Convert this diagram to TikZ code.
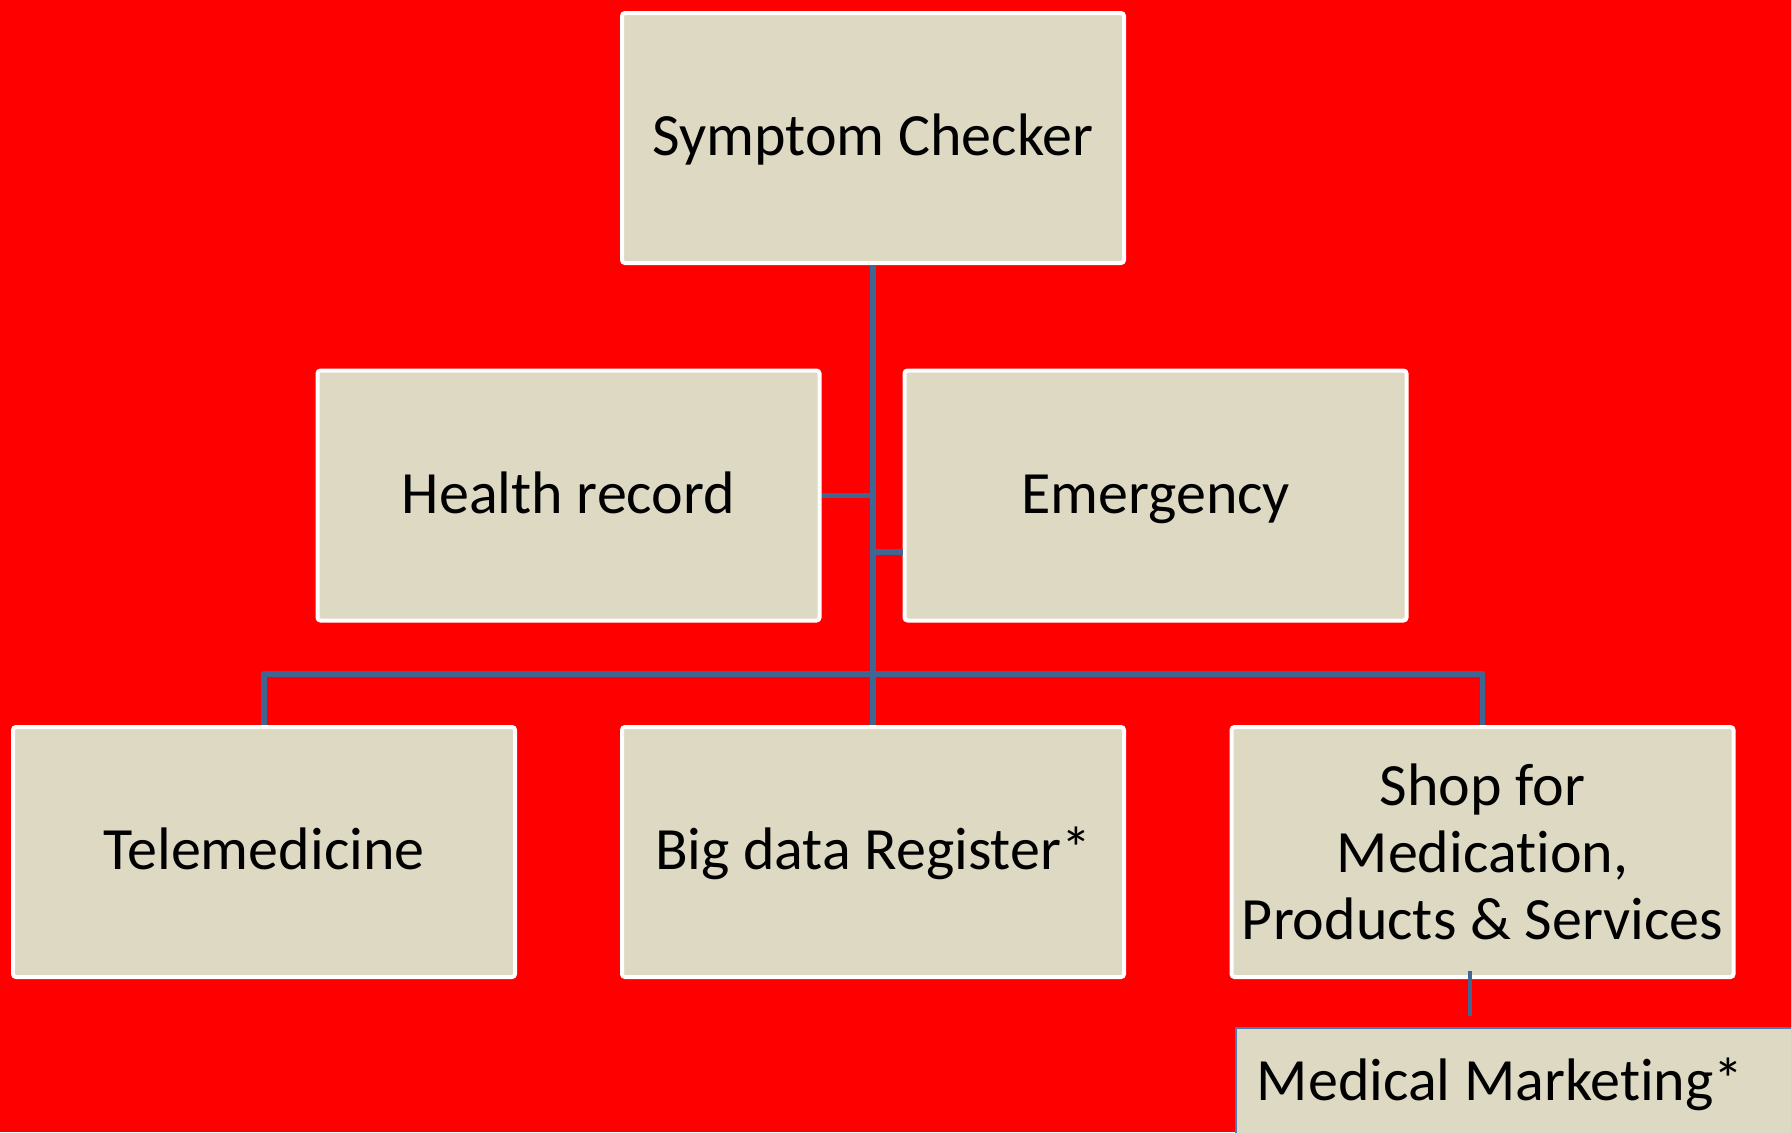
\documentclass[tikz,border=0pt]{standalone}
\usepackage{fontspec}
\setmainfont{Carlito}[Ligatures=NoCommon]
\usetikzlibrary{calc}
\definecolor{bg}{RGB}{255,0,0}
\definecolor{boxfill}{RGB}{221,217,195}
\definecolor{conn}{RGB}{64,103,148}
\definecolor{mmborder}{RGB}{80,120,180}
\begin{document}
\begin{tikzpicture}[x=0.5pt,y=-0.5pt,
  box/.style={draw=white,line width=2pt,fill=boxfill,rounded corners=1.5pt,
    minimum width=251pt,minimum height=125pt,inner sep=2pt,align=center,
    font=\fontsize{30}{33.5}\selectfont,text=black},
  onebox/.style={box,text height=22pt,text depth=4.5pt},
  mmbox/.style={draw=mmborder,line width=0.8pt,fill=boxfill,anchor=west,
    minimum height=56pt,inner xsep=10.5pt,text width=280pt,align=flush left,
    font=\fontsize{30}{33.5}\selectfont,text=black},
  link/.style={draw=conn,line width=2.6pt,line join=round},
  thinlink/.style={draw=conn,line width=1.6pt}]
\fill[bg] (0,0) rectangle (1791,1132);
\useasboundingbox (0,0) rectangle (1791,1132);
\clip (0,0) rectangle (1791,1132);
\node[onebox] (sc) at (873,138) {Symptom Checker};
\node[onebox] (hr) at (568.5,495.5) {Health record};
\node[onebox] (em) at (1155.5,495.5) {Emergency};
\node[onebox] (tm) at (264,852) {Telemedicine};
\node[onebox] (bd) at (873,852) {Big data Register*};
\node[box] (sh) at (1482.5,852) {Shop for\\Medication,\\Products \& Services};
\node[mmbox] (mm) at (1235,1084) {Medical Marketing*};
\coordinate (barc) at (873,674);
\coordinate (ej) at ($(em.west)+(0,56.5)$);
\draw[link] (sc.south) -- (bd.north);
\draw[link] (hr.east) -- (hr.east -| sc.south);
\draw[link] (ej) -- (ej -| sc.south);
\draw[link] (tm.north) -- (tm.north |- barc) -- (sh.north |- barc) -- (sh.north);
\draw[thinlink] ($(sh.south)+(-12.5,-8)$) -- ($(sh.south |- mm.north)+(-12.5,-11)$);
\end{tikzpicture}
\end{document}
